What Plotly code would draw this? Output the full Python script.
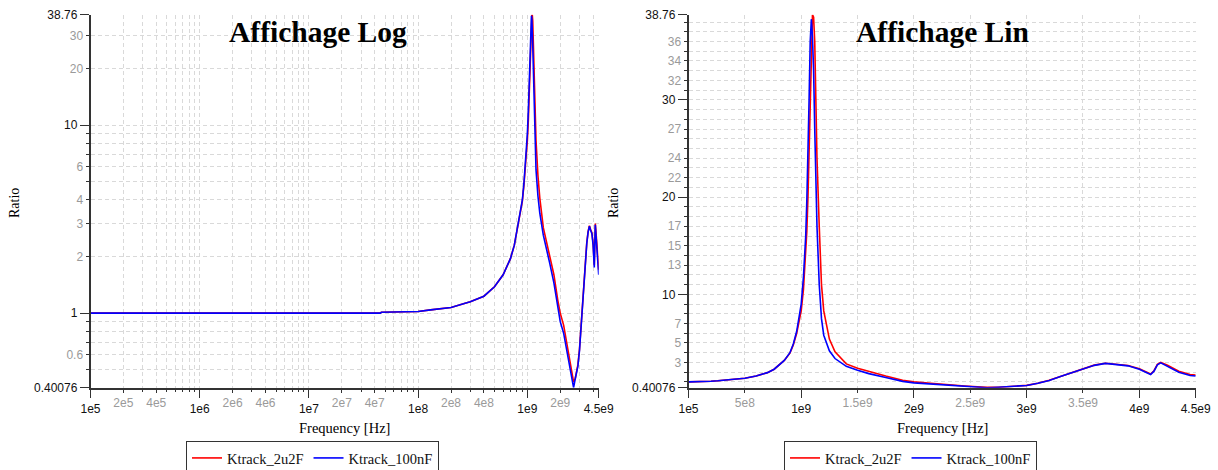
import plotly.graph_objects as go
import math

# ---------------- data ----------------
freq_hz = [1e5, 1e6, 1e7, 4.5e7, 4.6e7, 1e8, 1.3e8, 2e8, 2.6e8, 3e8, 4e8, 5e8, 6e8, 7e8,
           7.6e8, 8e8, 8.5e8, 9e8, 9.3e8, 9.6e8, 1.0e9, 1.02e9, 1.04e9, 1.05e9, 1.06e9,
           1.07e9, 1.08e9, 1.09e9, 1.1e9, 1.11e9, 1.12e9, 1.13e9, 1.14e9, 1.16e9, 1.18e9,
           1.2e9, 1.25e9, 1.3e9, 1.4e9, 1.5e9, 1.6e9, 1.75e9, 1.9e9, 2.0e9, 2.15e9, 2.3e9,
           2.45e9, 2.6e9, 2.65e9, 2.75e9, 2.9e9, 3.0e9, 3.1e9, 3.2e9, 3.3e9, 3.4e9, 3.5e9,
           3.6e9, 3.7e9, 3.8e9, 3.9e9, 4.0e9, 4.05e9, 4.1e9, 4.13e9, 4.16e9, 4.19e9,
           4.25e9, 4.35e9, 4.45e9, 4.5e9]

ratio_100nF = [1.0, 1.0, 1.0, 1.0, 1.01, 1.02, 1.04, 1.07, 1.12, 1.15, 1.23, 1.38, 1.6, 1.95,
               2.3, 2.7, 3.2, 4.0, 4.9, 6.2, 9.0, 11.8, 16.0, 19.7, 24.0,
               30.0, 36.0, 38.3, 36.5, 33.0, 27.0, 22.0, 17.0, 11.0, 7.5,
               5.8, 4.2, 3.4, 2.6, 2.2, 1.85, 1.45, 1.05, 0.9, 0.78, 0.62,
               0.52, 0.43, 0.40076, 0.45, 0.52, 0.63, 0.85, 1.15, 1.55, 1.95, 2.35,
               2.7, 2.9, 2.75, 2.65, 2.3, 2.0, 1.75, 2.1, 2.75, 2.95,
               2.6, 2.0, 1.65, 1.6]

ratio_2u2F = [1.0, 1.0, 1.0, 1.0, 1.01, 1.02, 1.04, 1.07, 1.12, 1.15, 1.23, 1.38, 1.6, 1.95,
              2.3, 2.7, 3.2, 3.95, 4.8, 6.0, 8.3, 10.5, 14.0, 16.5, 20.0,
              24.5, 30.0, 35.0, 38.76, 38.5, 36.0, 30.0, 24.0, 17.0, 11.0,
              8.3, 5.4, 4.1, 2.85, 2.4, 2.05, 1.6, 1.17, 1.0, 0.86, 0.68,
              0.57, 0.46, 0.43, 0.45, 0.53, 0.64, 0.86, 1.16, 1.56, 1.97, 2.37,
              2.72, 2.92, 2.78, 2.68, 2.35, 2.05, 1.8, 2.15, 2.8, 3.0,
              2.7, 2.1, 1.75, 1.7]

series_names = ["Ktrack_2u2F", "Ktrack_100nF"]
series_colors = ["#ff0000", "#0000ff"]

y_min, y_max = 0.40076, 38.76
x_min, x_max = 1e5, 4.5e9

# left (log) axis ticks
logx_major = [1e5, 1e6, 1e7, 1e8, 1e9, 4.5e9]
logx_major_text = ["1e5", "1e6", "1e7", "1e8", "1e9", "4.5e9"]
logx_gray = [2e5, 4e5, 2e6, 4e6, 2e7, 4e7, 2e8, 4e8, 2e9]
logx_gray_text = ["2e5", "4e5", "2e6", "4e6", "2e7", "4e7", "2e8", "4e8", "2e9"]
logx_minor = [m * d for d in [1e5, 1e6, 1e7, 1e8] for m in range(2, 10)] + [2e9, 3e9, 4e9]

logy_major = [0.40076, 1, 10, 38.76]
logy_major_text = ["0.40076", "1", "10", "38.76"]
logy_gray = [0.6, 2, 3, 4, 6, 20, 30]
logy_gray_text = ["0.6", "2", "3", "4", "6", "20", "30"]
logy_minor = [0.5, 0.6, 0.7, 0.8, 0.9, 2, 3, 4, 5, 6, 7, 8, 9, 20, 30]

# right (linear) axis ticks
linx_major = [1e5, 1e9, 2e9, 3e9, 4e9, 4.5e9]
linx_major_text = ["1e5", "1e9", "2e9", "3e9", "4e9", "4.5e9"]
linx_gray = [5e8, 1.5e9, 2.5e9, 3.5e9]
linx_gray_text = ["5e8", "1.5e9", "2.5e9", "3.5e9"]

liny_major = [0.40076, 10, 20, 30, 38.76]
liny_major_text = ["0.40076", "10", "20", "30", "38.76"]
liny_gray = [3, 5, 7, 13, 15, 17, 22, 24, 27, 32, 34, 36]
liny_gray_text = ["3", "5", "7", "13", "15", "17", "22", "24", "27", "32", "34", "36"]
liny_minor = list(range(1, 39))

# ---------------- layout helpers ----------------
W, H = 1218, 470

def px(x):
    return x / W

def py(y):
    return (H - y) / H

Y_DOM = [py(387.7), py(14.7)]
LX_DOM = [px(90.5), px(598.7)]
RX_DOM = [px(688.5), px(1195.7)]

AX_COL = "#333333"
GRID_COL = "#d9d9d9"
GRAY_TXT = "#9a9a9a"
TICK_FONT = dict(family="Liberation Sans, Arial, sans-serif", size=12, color="#111111")
GRAY_FONT = dict(family="Liberation Sans, Arial, sans-serif", size=12, color=GRAY_TXT)
SERIF = "Liberation Serif, Times New Roman, serif"

fig = go.Figure()

datasets = [ratio_2u2F, ratio_100nF]
for i in range(2):
    fig.add_trace(go.Scatter(x=freq_hz, y=datasets[i], mode="lines", name=series_names[i],
                             line=dict(color=series_colors[i], width=1.6),
                             xaxis="x", yaxis="y", legend="legend"))
for i in range(2):
    fig.add_trace(go.Scatter(x=freq_hz, y=datasets[i], mode="lines", name=series_names[i],
                             line=dict(color=series_colors[i], width=1.6),
                             xaxis="x2", yaxis="y2", legend="legend2"))

# empty helper traces so overlay label axes get drawn
for xa, ya in [("x3", "y"), ("x", "y3"), ("x4", "y2"), ("x2", "y4")]:
    fig.add_trace(go.Scatter(x=[], y=[], xaxis=xa, yaxis=ya, showlegend=False,
                             hoverinfo="skip"))

common_main = dict(showline=True, linecolor=AX_COL, linewidth=1.5, ticks="outside",
                   ticklen=9, tickwidth=1.2, tickcolor=AX_COL, tickfont=TICK_FONT,
                   showgrid=True, gridcolor=GRID_COL, gridwidth=1, griddash="4px,3px",
                   zeroline=False, tickmode="array", fixedrange=True, automargin=False)
common_over = dict(showline=False, ticks="outside", ticklen=4, tickwidth=1.2,
                   tickcolor=AX_COL, tickfont=GRAY_FONT, showgrid=False, zeroline=False,
                   tickmode="array", fixedrange=True, automargin=False)
minor_cfg = dict(ticks="outside", ticklen=3, tickwidth=1, tickcolor=AX_COL, showgrid=True,
                 gridcolor=GRID_COL, gridwidth=1, griddash="4px,3px")

log_xr = [math.log10(x_min), math.log10(x_max)]
log_yr = [math.log10(y_min), math.log10(y_max)]
lin_xr = [x_min, x_max]
lin_yr = [y_min, y_max]

fig.update_layout(
    xaxis=dict(domain=LX_DOM, anchor="y", type="log", range=log_xr,
               tickvals=logx_major, ticktext=logx_major_text,
               minor=dict(tickvals=logx_minor, **minor_cfg), **common_main),
    yaxis=dict(domain=Y_DOM, anchor="x", type="log", range=log_yr,
               tickvals=logy_major, ticktext=logy_major_text,
               minor=dict(tickvals=logy_minor, **minor_cfg), **common_main),
    xaxis3=dict(overlaying="x", anchor="y", type="log", range=log_xr, side="bottom",
                tickvals=logx_gray, ticktext=logx_gray_text, **common_over),
    yaxis3=dict(overlaying="y", anchor="x", type="log", range=log_yr, side="left",
                tickvals=logy_gray, ticktext=logy_gray_text, **common_over),
    xaxis2=dict(domain=RX_DOM, anchor="y2", type="linear", range=lin_xr,
                tickvals=linx_major, ticktext=linx_major_text,
                minor=dict(tickvals=linx_gray, **minor_cfg), **common_main),
    yaxis2=dict(domain=Y_DOM, anchor="x2", type="linear", range=lin_yr,
                tickvals=liny_major, ticktext=liny_major_text,
                minor=dict(tickvals=liny_minor, **minor_cfg), **common_main),
    xaxis4=dict(overlaying="x2", anchor="y2", type="linear", range=lin_xr, side="bottom",
                tickvals=linx_gray, ticktext=linx_gray_text, **common_over),
    yaxis4=dict(overlaying="y2", anchor="x2", type="linear", range=lin_yr, side="left",
                tickvals=liny_gray, ticktext=liny_gray_text, **common_over),
    legend=dict(orientation="h", x=px(186), y=py(441), xanchor="left", yanchor="top",
                bordercolor="#333333", borderwidth=1, bgcolor="white",
                font=dict(family=SERIF, size=14.5, color="#111111"),
                itemwidth=30, tracegroupgap=0),
    legend2=dict(orientation="h", x=px(784), y=py(441), xanchor="left", yanchor="top",
                 bordercolor="#333333", borderwidth=1, bgcolor="white",
                 font=dict(family=SERIF, size=14.5, color="#111111"),
                 itemwidth=30, tracegroupgap=0),
    width=W, height=H, autosize=False,
    margin=dict(l=0, r=0, t=0, b=0, autoexpand=False),
    paper_bgcolor="white", plot_bgcolor="white",
    showlegend=True,
)

annots = [
    dict(text="<b>Affichage Log</b>", x=px(317.5), y=py(32), size=29.5),
    dict(text="<b>Affichage Lin</b>", x=px(942), y=py(32), size=29.5),
    dict(text="Frequency [Hz]", x=px(344.6), y=py(428), size=14.5),
    dict(text="Frequency [Hz]", x=px(942), y=py(428), size=14.5),
]
for a in annots:
    fig.add_annotation(text=a["text"], x=a["x"], y=a["y"], xref="paper", yref="paper",
                       showarrow=False, xanchor="center", yanchor="middle",
                       font=dict(family=SERIF, size=a["size"], color="#000000"))
for xr in [14, 613]:
    fig.add_annotation(text="Ratio", x=px(xr), y=py(203), xref="paper", yref="paper",
                       showarrow=False, textangle=-90, xanchor="center", yanchor="middle",
                       font=dict(family=SERIF, size=14, color="#000000"))

fig.write_html("out.html", config={"displayModeBar": False},
               post_script="document.body.style.margin='0';document.body.style.padding='0';")
